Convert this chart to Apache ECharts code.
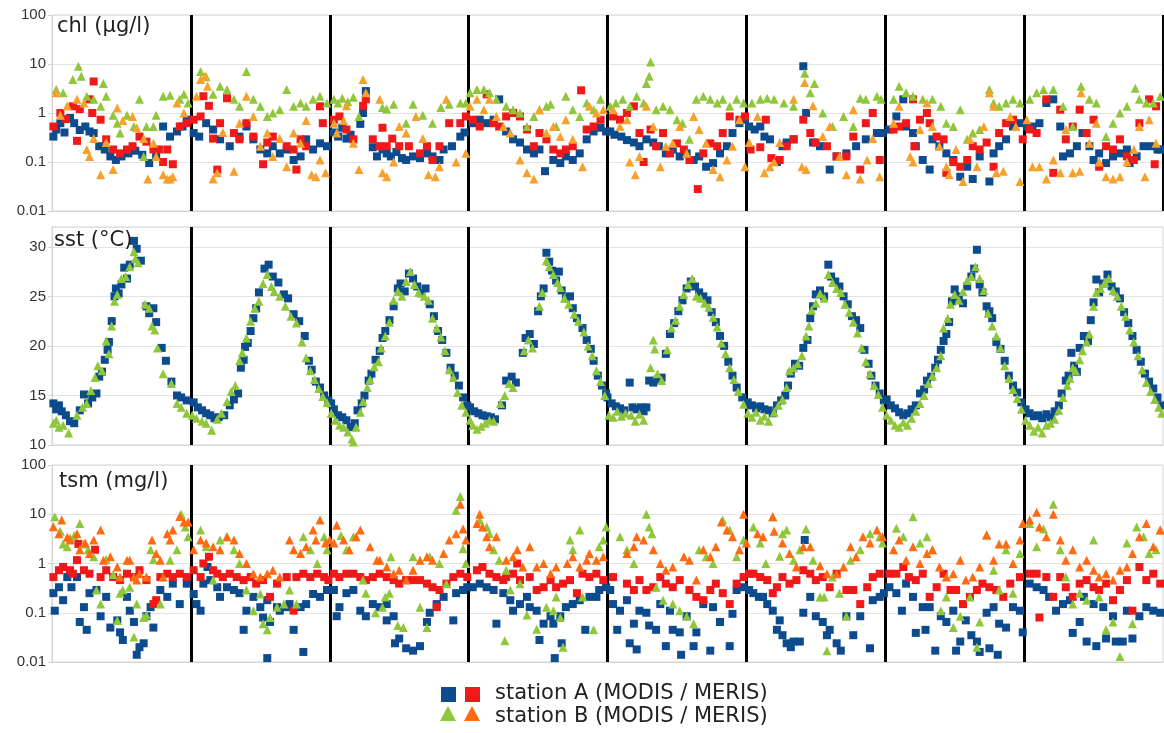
<!DOCTYPE html>
<html lang="en">
<head>
    <meta charset="UTF-8">
    <title>chl / sst / tsm</title>
    <script src="https://cdn.jsdelivr.net/npm/echarts@6/dist/echarts.min.js"></script>
</head>
<body style="margin:0;background:#fff;">
<div id="main" style="width: 1164px;height:733px;"></div>
<script>
    // time axis: years since start of record (8 years)
    const yearTicks = [0, 1, 2, 3, 4, 5, 6, 7, 8];
    const logTicks = ['100', '10', '1', '0.1', '0.01'];
    const sstTicks = [10, 15, 20, 25, 30];

    // ---- chl (ug/l) ----
    const chlAmodis = [
        [0.01,0.33],[0.03,0.46],[0.06,0.62],[0.09,0.4],[0.13,0.79],[0.16,0.62],[0.2,0.45],[0.24,0.53],[0.27,0.42],[0.3,0.39],[0.34,0.21],[0.38,0.18],[0.42,0.13],[0.46,0.11],[0.5,0.13],[0.55,0.15],[0.6,0.17],[0.65,0.14],[0.7,0.095],[0.75,0.14],[0.8,0.53],[0.85,0.33],[0.9,0.42],[0.94,0.53],[0.97,0.73],
        [1.02,0.39],[1.06,0.33],[1.11,0.62],[1.16,0.46],[1.21,0.29],[1.28,0.21],[1.35,0.33],[1.4,0.53],[1.45,0.29],[1.5,0.18],[1.55,0.15],[1.59,0.21],[1.64,0.15],[1.69,0.18],[1.74,0.11],[1.79,0.13],[1.83,0.29],[1.88,0.18],[1.93,0.24],[1.98,0.21],
        [2.03,0.4],[2.06,0.33],[2.09,0.5],[2.12,0.3],[2.15,0.36],[2.22,0.6],[2.24,1.0],[2.26,2.8],[2.31,0.2],[2.34,0.13],[2.38,0.18],[2.41,0.15],[2.44,0.13],[2.48,0.16],[2.52,0.12],[2.55,0.11],[2.6,0.13],[2.65,0.12],[2.7,0.15],[2.74,0.13],[2.79,0.11],[2.82,0.18],[2.88,0.21],[2.94,0.33],[2.97,0.4],
        [3.03,0.62],[3.08,0.73],[3.13,0.62],[3.18,0.73],[3.22,1.9],[3.27,0.42],[3.32,0.29],[3.37,0.25],[3.42,0.18],[3.47,0.15],[3.51,0.18],[3.55,0.065],[3.61,0.11],[3.66,0.095],[3.7,0.13],[3.75,0.11],[3.8,0.15],[3.85,0.29],[3.9,0.42],[3.95,0.5],[3.99,0.42],
        [4.02,0.42],[4.05,0.36],[4.1,0.33],[4.14,0.28],[4.19,0.25],[4.23,0.21],[4.28,0.29],[4.33,0.25],[4.37,0.21],[4.42,0.15],[4.47,0.18],[4.52,0.13],[4.57,0.15],[4.62,0.11],[4.66,0.13],[4.71,0.08],[4.76,0.095],[4.81,0.15],[4.86,0.21],[4.9,0.39],[4.95,0.62],[4.99,0.73],
        [5.02,0.53],[5.06,0.46],[5.1,0.53],[5.13,0.33],[5.17,0.29],[5.22,0.1],[5.26,0.21],[5.29,0.25],[5.34,0.29],[5.41,9.0],[5.43,1.0],[5.48,0.25],[5.53,0.21],[5.6,0.07],[5.65,0.13],[5.72,0.15],[5.79,0.21],[5.86,0.29],[5.94,0.39],[5.98,0.39],
        [6.03,0.46],[6.08,0.85],[6.13,1.9],[6.15,0.53],[6.2,0.39],[6.22,0.21],[6.27,0.11],[6.32,0.07],[6.34,0.29],[6.39,0.21],[6.44,0.15],[6.49,0.11],[6.54,0.05],[6.59,0.08],[6.63,0.045],[6.68,0.13],[6.75,0.04],[6.78,0.15],[6.82,0.21],[6.87,0.29],[6.92,0.53],[6.97,0.62],
        [7.02,0.53],[7.06,0.53],[7.11,0.62],[7.16,1.6],[7.21,1.9],[7.26,0.53],[7.28,0.13],[7.33,0.15],[7.38,0.21],[7.42,0.39],[7.47,0.21],[7.5,0.11],[7.54,0.15],[7.59,0.095],[7.64,0.13],[7.69,0.15],[7.74,0.18],[7.76,0.095],[7.81,0.13],[7.86,0.21],[7.91,0.21],[7.96,0.18],[7.98,0.18]
    ];
    const chlAmeris = [
        [0.01,0.53],[0.06,1.0],[0.1,0.75],[0.15,1.37],[0.18,0.27],[0.2,1.2],[0.27,1.9],[0.3,4.4],[0.29,1.0],[0.35,0.73],[0.39,0.29],[0.44,0.18],[0.49,0.15],[0.54,0.18],[0.58,0.21],[0.63,0.33],[0.68,0.26],[0.73,0.18],[0.77,0.18],[0.8,0.1],[0.83,0.18],[0.87,0.09],[0.92,0.53],[0.97,0.62],
        [1.02,0.73],[1.07,0.85],[1.09,2.2],[1.13,1.4],[1.16,0.3],[1.19,0.07],[1.21,0.62],[1.26,2.0],[1.31,0.39],[1.35,0.29],[1.4,0.62],[1.45,0.33],[1.52,0.09],[1.55,0.25],[1.59,0.33],[1.69,0.21],[1.74,0.18],[1.76,0.07],[1.79,0.29],[1.83,0.21],[1.93,1.37],[1.95,0.62],
        [2.03,0.73],[2.07,0.85],[2.12,0.46],[2.17,0.29],[2.24,1.4],[2.26,1.9],[2.31,0.29],[2.36,0.21],[2.38,0.5],[2.41,0.21],[2.45,0.3],[2.5,0.21],[2.57,0.21],[2.65,0.15],[2.7,0.21],[2.74,0.11],[2.79,0.21],[2.86,0.62],[2.94,0.62],[2.98,0.85],
        [3.03,0.73],[3.08,0.53],[3.13,2.4],[3.18,0.62],[3.22,0.53],[3.27,0.85],[3.32,1.0],[3.37,0.85],[3.42,0.46],[3.47,0.21],[3.51,0.39],[3.56,0.29],[3.61,0.18],[3.66,0.15],[3.7,0.18],[3.75,0.21],[3.81,2.9],[3.85,0.46],[3.9,0.53],[3.95,0.73],
        [4.04,0.85],[4.09,0.73],[4.14,1.0],[4.19,1.37],[4.23,0.39],[4.26,0.1],[4.31,0.46],[4.35,0.21],[4.4,0.39],[4.45,0.15],[4.5,0.24],[4.55,0.18],[4.59,0.11],[4.65,0.028],[4.69,0.15],[4.74,0.24],[4.79,0.21],[4.83,0.39],[4.88,0.85],[4.95,0.73],[4.99,0.85],
        [5.03,0.18],[5.1,0.2],[5.14,0.73],[5.18,0.12],[5.24,0.11],[5.29,0.21],[5.34,0.29],[5.41,0.73],[5.46,0.39],[5.5,0.25],[5.58,0.21],[5.65,0.13],[5.72,0.13],[5.77,0.33],[5.82,0.07],[5.86,0.62],[5.91,1.0],[5.96,0.11],
        [6.06,0.46],[6.1,0.53],[6.15,0.62],[6.2,1.9],[6.21,0.21],[6.25,0.73],[6.3,1.0],[6.32,0.62],[6.37,0.33],[6.42,0.29],[6.44,0.06],[6.49,0.1],[6.54,0.08],[6.59,0.11],[6.63,0.21],[6.68,0.18],[6.73,0.25],[6.78,0.08],[6.82,0.39],[6.87,0.62],[6.92,0.73],[6.99,0.29],
        [7.04,0.46],[7.09,0.39],[7.16,1.9],[7.21,0.06],[7.26,1.17],[7.3,0.29],[7.35,0.53],[7.4,1.17],[7.45,0.39],[7.5,0.73],[7.54,0.08],[7.59,0.21],[7.64,0.18],[7.69,0.29],[7.74,0.13],[7.79,0.11],[7.83,0.62],[7.9,1.9],[7.94,0.09],[7.95,1.37]
    ];
    const chlBmodis = [
        [0.03,3.0],[0.08,2.6],[0.15,4.8],[0.19,9.0],[0.21,5.6],[0.25,2.2],[0.3,1.9],[0.35,1.37],[0.37,4.0],[0.39,2.2],[0.44,0.9],[0.47,0.62],[0.49,0.39],[0.54,0.9],[0.59,0.53],[0.63,1.9],[0.66,0.13],[0.68,0.53],[0.73,0.53],[0.75,0.9],[0.8,2.2],[0.85,2.3],[0.92,1.9],[0.95,2.4],[0.98,1.6],
        [1.07,7.0],[1.11,5.5],[1.16,2.4],[1.21,3.5],[1.26,3.0],[1.31,1.9],[1.35,1.37],[1.4,7.0],[1.45,1.9],[1.5,1.37],[1.55,0.85],[1.59,1.0],[1.64,1.17],[1.69,3.0],[1.74,1.37],[1.79,1.6],[1.83,1.37],[1.88,1.9],[1.93,2.2],[1.98,1.6],
        [2.03,1.9],[2.06,1.6],[2.09,2.0],[2.13,1.7],[2.17,2.1],[2.21,0.85],[2.38,1.3],[2.41,1.2],[2.46,1.5],[2.55,0.62],[2.6,1.5],[2.67,0.9],[2.74,0.62],[2.8,1.3],[2.86,1.5],[2.94,1.6],[2.98,1.6],
        [3.01,2.6],[3.06,3.0],[3.11,3.0],[3.15,2.6],[3.2,1.9],[3.27,1.37],[3.32,1.17],[3.37,1.0],[3.42,0.53],[3.47,0.85],[3.51,1.17],[3.56,1.37],[3.59,1.5],[3.63,0.53],[3.7,2.2],[3.75,1.17],[3.8,0.85],[3.85,1.6],[3.9,1.17],[3.95,1.9],
        [4.02,1.37],[4.06,1.6],[4.11,1.9],[4.16,1.37],[4.21,2.2],[4.26,1.6],[4.28,4.0],[4.3,5.6],[4.31,11.0],[4.35,1.17],[4.4,1.37],[4.45,1.17],[4.5,0.73],[4.54,0.62],[4.59,0.29],[4.64,1.9],[4.69,2.2],[4.74,1.9],[4.79,1.6],[4.83,1.9],[4.88,1.37],[4.93,1.9],[4.98,1.6],
        [5.04,1.6],[5.1,1.9],[5.15,2.0],[5.2,1.9],[5.27,1.6],[5.34,1.37],[5.42,6.5],[5.46,2.6],[5.49,4.0],[5.55,1.0],[5.62,0.53],[5.7,0.85],[5.77,0.53],[5.82,2.0],[5.86,1.9],[5.94,2.2],[5.97,1.9],
        [6.06,1.9],[6.1,3.5],[6.15,2.6],[6.2,2.2],[6.27,1.9],[6.34,1.9],[6.4,1.37],[6.44,0.62],[6.49,0.53],[6.54,1.17],[6.59,0.29],[6.63,0.39],[6.68,0.46],[6.75,3.0],[6.78,1.6],[6.82,1.37],[6.87,1.6],[6.92,1.9],[6.97,1.6],
        [7.04,1.9],[7.09,2.6],[7.14,3.0],[7.21,3.0],[7.28,1.37],[7.35,0.53],[7.41,3.5],[7.47,1.9],[7.52,1.6],[7.59,0.33],[7.64,0.62],[7.69,1.0],[7.74,1.37],[7.8,3.2],[7.83,1.9],[7.88,1.6],[7.93,1.6],[7.98,2.2]
    ];
    const chlBmeris = [
        [0.03,2.6],[0.06,0.9],[0.11,1.4],[0.18,1.9],[0.23,1.6],[0.25,0.18],[0.27,0.13],[0.3,0.3],[0.35,0.055],[0.39,0.25],[0.44,0.07],[0.47,1.26],[0.51,0.7],[0.58,0.85],[0.61,0.5],[0.66,0.3],[0.69,0.045],[0.73,0.24],[0.75,0.13],[0.8,0.055],[0.83,0.045],[0.85,0.045],[0.87,0.05],[0.9,1.6],[0.95,1.0],
        [1.04,2.2],[1.07,4.8],[1.1,5.6],[1.12,3.5],[1.16,0.045],[1.19,0.06],[1.23,0.4],[1.31,0.065],[1.35,0.62],[1.4,2.2],[1.45,0.85],[1.5,0.21],[1.55,0.39],[1.59,0.13],[1.64,0.3],[1.69,0.08],[1.74,0.39],[1.79,0.24],[1.83,0.7],[1.87,0.055],[1.9,0.05],[1.93,0.11],[1.97,0.06],
        [2.03,0.62],[2.05,0.39],[2.1,0.7],[2.12,1.4],[2.17,0.24],[2.21,0.07],[2.24,4.8],[2.26,2.6],[2.36,1.9],[2.38,0.06],[2.41,0.05],[2.46,0.1],[2.5,0.53],[2.55,0.39],[2.62,0.85],[2.67,0.3],[2.71,0.055],[2.76,0.05],[2.79,0.08],[2.84,1.9],[2.91,0.1],[2.98,0.15],
        [3.01,1.37],[3.06,1.9],[3.11,1.17],[3.15,1.9],[3.2,0.85],[3.25,0.53],[3.3,0.39],[3.37,0.11],[3.42,0.06],[3.47,0.045],[3.51,1.17],[3.56,0.39],[3.61,0.53],[3.66,0.33],[3.7,0.73],[3.75,0.29],[3.82,0.08],[3.87,1.37],[3.92,1.0],[3.97,1.17],
        [4.04,1.17],[4.09,0.53],[4.14,0.73],[4.16,0.1],[4.2,0.055],[4.23,0.13],[4.28,1.37],[4.33,0.53],[4.38,0.08],[4.42,0.21],[4.47,0.24],[4.52,0.53],[4.57,0.15],[4.62,0.85],[4.66,0.46],[4.71,0.24],[4.76,0.07],[4.81,0.05],[4.86,0.11],[4.9,0.21],[4.95,0.73],[4.99,0.08],
        [5.02,0.25],[5.08,0.85],[5.13,0.06],[5.17,0.08],[5.2,0.1],[5.24,0.25],[5.34,1.9],[5.4,0.08],[5.42,4.2],[5.43,0.07],[5.48,1.4],[5.55,0.33],[5.6,0.53],[5.67,0.13],[5.72,0.055],[5.77,1.17],[5.82,0.045],[5.87,0.11],[5.91,0.3],[5.96,0.05],
        [6.06,0.62],[6.1,1.37],[6.18,0.13],[6.2,0.1],[6.25,0.46],[6.3,1.6],[6.34,0.53],[6.39,0.21],[6.44,0.08],[6.46,0.055],[6.51,0.18],[6.56,0.04],[6.61,0.29],[6.66,0.08],[6.71,0.53],[6.75,2.6],[6.78,1.37],[6.8,0.06],[6.85,0.065],[6.9,0.85],[6.94,0.53],[6.97,0.04],
        [7.02,0.73],[7.06,0.08],[7.11,0.08],[7.16,0.045],[7.21,0.11],[7.26,0.06],[7.3,0.46],[7.35,0.06],[7.4,0.065],[7.41,2.6],[7.47,0.24],[7.52,0.62],[7.54,0.1],[7.59,0.05],[7.64,0.045],[7.69,0.05],[7.74,0.1],[7.79,0.18],[7.83,0.53],[7.87,0.05],[7.9,0.73],[7.95,0.24]
    ];

    // ---- sst (degC) ----
    const sstAmodis = [
        [0.01,14.2],[0.03,13.6],[0.05,14.0],[0.07,13.4],[0.1,13.0],[0.13,12.4],[0.16,12.2],[0.2,13.5],[0.23,15.1],[0.26,14.2],[0.29,14.8],[0.32,15.2],[0.34,16.9],[0.36,17.4],[0.38,18.6],[0.4,19.6],[0.41,20.4],[0.43,22.5],[0.45,25.0],[0.46,25.8],[0.48,25.3],[0.5,26.2],[0.52,27.9],[0.54,26.8],[0.56,28.2],[0.59,30.6],[0.61,29.8],[0.64,28.6],[0.68,24.0],[0.7,23.3],[0.73,23.8],[0.75,22.4],[0.79,19.8],[0.82,18.5],[0.86,16.4],[0.9,15.0],[0.93,14.8],[0.97,14.5],
        [1.02,14.3],[1.05,13.8],[1.08,13.5],[1.11,13.2],[1.14,13.0],[1.17,12.7],[1.2,12.8],[1.24,13.0],[1.28,14.0],[1.31,14.6],[1.34,15.2],[1.36,17.8],[1.38,18.6],[1.39,19.9],[1.41,20.3],[1.43,21.5],[1.45,22.8],[1.47,23.8],[1.49,25.4],[1.53,27.8],[1.56,28.2],[1.59,27.0],[1.63,26.4],[1.67,25.2],[1.7,24.8],[1.74,23.2],[1.78,22.5],[1.82,21.0],[1.85,18.5],[1.87,17.6],[1.9,16.4],[1.93,15.8],[1.96,15.0],[1.99,14.5],
        [2.01,14.2],[2.03,13.6],[2.06,13.0],[2.09,12.8],[2.12,12.5],[2.15,11.8],[2.18,12.2],[2.2,13.5],[2.23,14.2],[2.25,15.0],[2.28,16.5],[2.3,17.2],[2.33,18.6],[2.36,19.5],[2.38,20.8],[2.4,21.5],[2.43,22.6],[2.46,24.0],[2.49,25.8],[2.51,26.3],[2.54,25.5],[2.57,27.3],[2.6,26.8],[2.63,26.0],[2.66,25.3],[2.69,25.8],[2.72,24.2],[2.75,23.0],[2.78,21.5],[2.81,20.6],[2.84,19.3],[2.87,17.8],[2.9,17.0],[2.93,16.0],[2.96,14.8],[2.99,14.0],
        [3.01,13.8],[3.04,13.4],[3.07,13.2],[3.1,13.0],[3.13,12.9],[3.16,12.8],[3.19,12.6],[3.24,14.0],[3.27,16.5],[3.31,16.9],[3.34,16.3],[3.39,19.3],[3.41,20.8],[3.44,21.2],[3.47,20.2],[3.5,23.5],[3.52,25.0],[3.54,25.8],[3.56,29.4],[3.58,28.5],[3.6,27.6],[3.63,26.6],[3.65,27.5],[3.67,25.6],[3.7,24.8],[3.73,25.0],[3.75,23.8],[3.78,22.8],[3.82,21.8],[3.85,20.6],[3.88,19.7],[3.9,18.5],[3.93,17.0],[3.96,16.0],[3.99,15.2],
        [4.0,14.8],[4.03,14.2],[4.06,13.9],[4.09,13.7],[4.12,13.5],[4.16,16.3],[4.18,13.8],[4.21,13.6],[4.24,13.8],[4.26,13.4],[4.28,13.8],[4.3,16.5],[4.33,16.3],[4.36,16.6],[4.39,16.8],[4.42,19.2],[4.45,21.2],[4.48,22.3],[4.51,23.5],[4.54,24.6],[4.57,25.8],[4.6,26.5],[4.63,26.0],[4.66,25.4],[4.69,25.0],[4.72,24.6],[4.75,23.4],[4.78,22.4],[4.81,21.0],[4.84,20.0],[4.87,18.4],[4.9,17.0],[4.93,15.8],[4.97,14.8],
        [5.01,14.3],[5.04,14.0],[5.07,13.7],[5.1,13.9],[5.13,13.6],[5.16,13.5],[5.19,13.2],[5.22,14.0],[5.25,14.5],[5.28,15.0],[5.3,16.0],[5.32,17.2],[5.35,18.2],[5.38,18.0],[5.41,19.8],[5.44,20.6],[5.46,22.8],[5.48,24.0],[5.5,25.2],[5.53,25.6],[5.56,25.0],[5.59,28.2],[5.61,27.0],[5.64,26.5],[5.67,26.0],[5.7,25.0],[5.73,24.2],[5.76,23.0],[5.79,22.6],[5.82,21.8],[5.85,19.6],[5.88,18.2],[5.9,17.0],[5.93,16.0],[5.96,15.2],[5.99,14.5],
        [6.01,14.6],[6.04,14.0],[6.07,13.7],[6.1,13.3],[6.13,13.0],[6.16,13.2],[6.19,13.6],[6.22,14.0],[6.25,15.2],[6.28,15.6],[6.3,16.5],[6.33,16.9],[6.36,17.8],[6.38,18.6],[6.4,19.6],[6.42,20.5],[6.44,21.2],[6.46,22.4],[6.48,24.5],[6.5,25.7],[6.53,25.0],[6.56,24.3],[6.59,26.0],[6.62,27.0],[6.64,27.8],[6.66,29.7],[6.68,26.2],[6.7,25.4],[6.73,24.0],[6.75,23.5],[6.77,22.8],[6.8,20.4],[6.83,19.7],[6.86,18.5],[6.89,17.0],[6.92,16.0],[6.95,15.3],[6.98,14.3],
        [7.01,13.6],[7.04,13.2],[7.07,12.9],[7.1,13.0],[7.13,12.7],[7.16,13.1],[7.19,12.8],[7.22,13.4],[7.25,14.0],[7.27,15.2],[7.3,16.5],[7.32,17.0],[7.34,19.3],[7.36,18.0],[7.38,17.4],[7.4,19.8],[7.43,21.0],[7.46,20.5],[7.48,22.6],[7.5,24.4],[7.52,26.7],[7.54,25.4],[7.57,26.3],[7.6,27.2],[7.63,26.0],[7.66,25.5],[7.69,24.8],[7.72,23.4],[7.75,22.3],[7.78,21.0],[7.81,19.6],[7.84,18.4],[7.87,17.2],[7.9,16.4],[7.93,15.7],[7.96,14.8],[7.99,14.0]
    ];
    const sstBmodis = [
        [0.01,12.2],[0.03,12.5],[0.05,11.8],[0.08,12.0],[0.12,11.2],[0.18,13.0],[0.22,13.8],[0.25,14.2],[0.28,15.5],[0.31,16.8],[0.33,18.0],[0.36,17.5],[0.39,20.5],[0.41,19.2],[0.43,22.0],[0.45,24.5],[0.47,25.2],[0.5,26.8],[0.53,27.0],[0.56,28.0],[0.59,29.5],[0.6,28.8],[0.62,28.4],[0.67,24.2],[0.7,23.8],[0.72,22.0],[0.74,21.6],[0.76,19.8],[0.8,17.2],[0.86,16.2],[0.9,14.2],[0.93,13.8],[0.97,13.2],
        [1.01,13.0],[1.04,12.7],[1.08,12.4],[1.11,12.2],[1.15,11.5],[1.19,12.6],[1.22,13.2],[1.26,14.4],[1.29,15.4],[1.32,16.0],[1.35,18.5],[1.37,19.3],[1.4,20.8],[1.43,22.5],[1.46,23.8],[1.49,24.5],[1.52,26.3],[1.55,27.2],[1.58,26.0],[1.6,25.5],[1.64,25.0],[1.68,24.0],[1.72,23.0],[1.76,22.3],[1.8,20.4],[1.83,18.8],[1.86,17.5],[1.89,16.6],[1.92,15.7],[1.95,14.9],[1.98,14.3],
        [2.01,13.2],[2.04,12.5],[2.07,12.0],[2.1,11.8],[2.13,11.3],[2.16,10.6],[2.17,10.3],[2.19,11.8],[2.22,13.3],[2.24,14.4],[2.27,15.8],[2.29,16.6],[2.32,17.9],[2.35,18.4],[2.37,19.8],[2.4,21.0],[2.43,22.4],[2.46,24.6],[2.49,25.5],[2.52,25.0],[2.55,26.5],[2.58,27.5],[2.61,26.2],[2.64,25.4],[2.68,25.0],[2.71,24.6],[2.74,22.8],[2.77,21.8],[2.8,20.9],[2.83,19.5],[2.86,17.6],[2.89,16.8],[2.92,15.3],[2.95,14.0],[2.98,13.3],
        [3.01,12.5],[3.03,12.0],[3.06,11.6],[3.09,11.9],[3.12,12.2],[3.15,12.5],[3.18,12.4],[3.23,14.2],[3.26,15.0],[3.29,16.2],[3.32,15.8],[3.4,19.5],[3.43,20.6],[3.46,19.8],[3.51,24.0],[3.53,25.4],[3.56,28.6],[3.58,28.0],[3.61,27.2],[3.64,26.4],[3.66,25.9],[3.69,24.8],[3.72,24.2],[3.76,23.2],[3.79,22.5],[3.83,21.4],[3.86,20.0],[3.89,19.0],[3.92,17.5],[3.95,16.4],[3.98,15.0],
        [4.01,13.0],[4.04,12.8],[4.07,13.4],[4.1,12.9],[4.13,13.2],[4.17,13.0],[4.2,12.4],[4.23,13.1],[4.26,12.5],[4.31,17.8],[4.33,20.6],[4.34,19.7],[4.36,17.2],[4.39,16.5],[4.43,19.6],[4.46,21.8],[4.49,22.6],[4.52,24.0],[4.55,25.2],[4.58,26.2],[4.61,26.8],[4.64,25.0],[4.67,24.8],[4.7,24.3],[4.73,23.9],[4.76,22.9],[4.79,21.9],[4.82,20.3],[4.85,19.2],[4.88,17.8],[4.91,16.6],[4.94,15.4],[4.98,14.1],
        [5.01,13.2],[5.04,12.8],[5.07,13.3],[5.1,12.5],[5.13,12.9],[5.16,12.4],[5.2,13.3],[5.23,14.0],[5.26,14.6],[5.29,15.8],[5.31,17.5],[5.34,17.8],[5.37,18.2],[5.4,19.0],[5.43,21.0],[5.45,22.0],[5.47,23.6],[5.5,24.3],[5.53,25.3],[5.56,24.8],[5.59,27.2],[5.62,26.4],[5.65,25.8],[5.68,25.4],[5.71,24.2],[5.74,23.4],[5.77,22.4],[5.8,21.3],[5.83,19.8],[5.86,18.4],[5.89,17.2],[5.92,16.0],[5.95,15.1],[5.98,13.8],
        [6.01,13.0],[6.04,12.5],[6.07,12.0],[6.1,11.8],[6.13,12.3],[6.16,12.0],[6.19,12.7],[6.22,13.4],[6.25,14.2],[6.28,15.0],[6.31,16.2],[6.34,17.0],[6.37,17.8],[6.4,19.0],[6.42,21.8],[6.45,22.8],[6.47,24.2],[6.5,25.2],[6.53,24.6],[6.56,25.5],[6.59,26.6],[6.62,27.0],[6.65,28.0],[6.68,26.8],[6.71,25.6],[6.74,23.3],[6.77,22.0],[6.8,21.0],[6.83,19.8],[6.86,18.0],[6.89,16.7],[6.92,15.6],[6.95,14.7],[6.98,13.6],
        [7.01,12.5],[7.04,12.0],[7.07,11.4],[7.1,11.8],[7.13,11.2],[7.16,12.0],[7.19,12.2],[7.22,12.6],[7.25,13.5],[7.28,14.8],[7.31,16.0],[7.33,16.7],[7.35,17.8],[7.37,17.5],[7.4,18.6],[7.42,19.5],[7.45,20.4],[7.47,21.2],[7.5,24.0],[7.52,25.4],[7.55,25.8],[7.58,26.4],[7.61,26.8],[7.64,25.6],[7.67,25.0],[7.7,24.0],[7.73,23.0],[7.76,21.6],[7.79,20.4],[7.82,19.0],[7.85,17.6],[7.88,16.3],[7.91,15.4],[7.94,14.6],[7.97,13.8],[7.99,13.2]
    ];

    // ---- tsm (mg/l) ----
    const tsmAmodis = [
        [0.01,0.25],[0.02,0.11],[0.05,0.33],[0.08,0.18],[0.11,0.53],[0.14,0.33],[0.18,0.53],[0.2,0.065],[0.23,0.13],[0.25,0.045],[0.27,0.25],[0.32,0.29],[0.35,0.085],[0.39,0.21],[0.42,0.05],[0.47,0.07],[0.49,0.04],[0.51,0.028],[0.54,0.21],[0.56,0.11],[0.59,0.065],[0.61,0.014],[0.63,0.02],[0.66,0.024],[0.68,0.085],[0.71,0.13],[0.73,0.05],[0.78,0.29],[0.83,0.21],[0.87,0.39],[0.92,0.15],[0.97,0.39],
        [1.02,0.24],[1.04,0.15],[1.07,0.11],[1.09,0.39],[1.12,0.85],[1.14,0.46],[1.19,0.33],[1.21,0.21],[1.26,0.33],[1.31,0.29],[1.35,0.25],[1.38,0.045],[1.4,0.11],[1.45,0.21],[1.5,0.13],[1.52,0.08],[1.55,0.18],[1.55,0.012],[1.57,0.065],[1.62,0.13],[1.64,0.11],[1.69,0.13],[1.71,0.15],[1.74,0.045],[1.79,0.13],[1.81,0.016],[1.83,0.15],[1.88,0.24],[1.93,0.21],[1.98,0.29],
        [2.03,0.29],[2.05,0.085],[2.07,0.13],[2.12,0.25],[2.17,0.29],[2.22,0.11],[2.26,0.085],[2.31,0.15],[2.36,0.13],[2.41,0.15],[2.41,0.07],[2.46,0.085],[2.47,0.024],[2.5,0.03],[2.55,0.019],[2.6,0.017],[2.65,0.021],[2.7,0.065],[2.72,0.1],[2.77,0.15],[2.82,0.21],[2.89,0.07],[2.91,0.25],[2.96,0.29],[2.99,0.33],
        [3.03,0.33],[3.08,0.39],[3.13,0.33],[3.18,0.29],[3.2,0.06],[3.25,0.25],[3.3,0.18],[3.32,0.11],[3.37,0.15],[3.42,0.21],[3.44,0.13],[3.49,0.11],[3.51,0.028],[3.54,0.06],[3.59,0.085],[3.61,0.06],[3.62,0.012],[3.66,0.085],[3.67,0.024],[3.7,0.13],[3.75,0.15],[3.8,0.18],[3.84,0.045],[3.87,0.21],[3.92,0.21],[3.94,0.29],[3.99,0.33],
        [4.02,0.29],[4.04,0.15],[4.07,0.045],[4.09,0.11],[4.14,0.18],[4.16,0.024],[4.19,0.06],[4.21,0.018],[4.23,0.11],[4.28,0.1],[4.3,0.055],[4.35,0.045],[4.38,0.15],[4.42,0.021],[4.45,0.11],[4.47,0.045],[4.52,0.04],[4.53,0.014],[4.57,0.085],[4.62,0.021],[4.64,0.04],[4.69,0.15],[4.74,0.017],[4.76,0.13],[4.81,0.065],[4.88,0.021],[4.9,0.095],[4.93,0.29],[4.98,0.33],
        [5.02,0.29],[5.05,0.25],[5.09,0.21],[5.12,0.21],[5.15,0.15],[5.19,0.11],[5.22,0.045],[5.24,0.07],[5.26,0.035],[5.29,0.024],[5.32,0.02],[5.34,0.026],[5.385,0.026],[5.41,0.1],[5.42,3.0],[5.46,0.21],[5.5,0.085],[5.55,0.065],[5.58,0.035],[5.6,0.045],[5.65,0.024],[5.68,0.017],[5.72,0.085],[5.77,0.035],[5.82,0.085],[5.89,0.019],[5.91,0.18],[5.96,0.21],[5.99,0.25],
        [6.03,0.33],[6.08,0.25],[6.12,0.11],[6.15,0.39],[6.2,0.21],[6.22,0.039],[6.27,0.13],[6.29,0.045],[6.32,0.13],[6.36,0.017],[6.4,0.085],[6.44,0.065],[6.49,0.11],[6.51,0.017],[6.54,0.026],[6.58,0.07],[6.62,0.035],[6.66,0.026],[6.68,0.016],[6.73,0.1],[6.75,0.019],[6.78,0.13],[6.81,0.014],[6.82,0.06],[6.87,0.05],[6.92,0.13],[6.97,0.11],[6.99,0.04],
        [7.04,0.39],[7.09,0.33],[7.14,0.29],[7.18,0.21],[7.23,0.11],[7.28,0.15],[7.33,0.18],[7.35,0.039],[7.4,0.065],[7.43,0.21],[7.45,0.026],[7.5,0.15],[7.52,0.021],[7.57,0.13],[7.59,0.03],[7.64,0.085],[7.66,0.026],[7.71,0.026],[7.74,0.11],[7.78,0.03],[7.83,0.085],[7.88,0.13],[7.93,0.11],[7.98,0.1]
    ];
    const tsmAmeris = [
        [0.01,0.53],[0.05,0.73],[0.08,0.85],[0.13,0.73],[0.15,0.62],[0.18,1.17],[0.19,2.5],[0.23,0.73],[0.27,0.62],[0.31,1.9],[0.35,0.53],[0.39,0.73],[0.44,0.53],[0.49,0.46],[0.54,0.62],[0.59,0.53],[0.63,0.73],[0.68,0.46],[0.73,0.15],[0.75,0.18],[0.78,0.53],[0.83,0.62],[0.87,0.53],[0.92,0.62],[0.97,0.53],
        [1.02,0.73],[1.07,0.53],[1.09,1.0],[1.13,1.37],[1.16,0.73],[1.19,0.62],[1.23,0.53],[1.28,0.62],[1.33,0.53],[1.38,0.46],[1.43,0.53],[1.47,0.39],[1.52,0.46],[1.57,0.21],[1.62,0.39],[1.69,0.53],[1.74,0.11],[1.76,0.53],[1.81,0.62],[1.86,0.53],[1.91,0.62],[1.96,0.53],[1.99,0.46],
        [2.03,0.62],[2.07,0.53],[2.12,0.62],[2.17,0.62],[2.22,0.53],[2.26,0.46],[2.31,0.53],[2.36,0.62],[2.41,0.53],[2.46,0.46],[2.5,0.39],[2.55,0.46],[2.6,0.46],[2.65,0.46],[2.7,0.39],[2.74,0.33],[2.77,0.13],[2.79,0.29],[2.84,0.39],[2.89,0.53],[2.94,0.62],[2.99,0.53],
        [3.06,0.73],[3.1,0.85],[3.15,0.62],[3.2,0.53],[3.25,0.46],[3.27,0.53],[3.32,0.62],[3.35,1.0],[3.37,0.46],[3.44,0.53],[3.49,0.29],[3.54,0.33],[3.59,0.46],[3.63,0.33],[3.68,0.39],[3.73,0.46],[3.78,0.25],[3.82,0.62],[3.87,0.53],[3.92,0.62],[3.97,0.46],
        [4.04,0.53],[4.14,0.39],[4.19,0.29],[4.23,0.46],[4.28,0.29],[4.33,0.33],[4.38,0.53],[4.42,0.39],[4.47,0.33],[4.52,0.46],[4.59,0.29],[4.64,0.21],[4.69,0.18],[4.74,0.29],[4.78,0.39],[4.83,0.25],[4.88,0.15],[4.93,0.39],[4.98,0.53],
        [5.02,0.62],[5.05,0.62],[5.1,0.53],[5.15,0.46],[5.19,0.25],[5.22,0.33],[5.26,0.53],[5.31,0.39],[5.36,0.46],[5.41,0.73],[5.46,0.62],[5.5,0.46],[5.55,0.53],[5.6,0.33],[5.65,0.62],[5.72,0.29],[5.77,0.29],[5.82,0.15],[5.87,0.33],[5.91,0.53],[5.96,0.62],
        [6.03,0.62],[6.08,0.62],[6.13,0.85],[6.17,0.53],[6.22,0.46],[6.27,0.62],[6.32,0.21],[6.37,0.33],[6.42,0.62],[6.47,0.29],[6.51,0.29],[6.56,0.15],[6.61,0.21],[6.66,0.29],[6.7,0.39],[6.75,0.33],[6.8,0.29],[6.85,0.21],[6.9,0.39],[6.97,0.53],
        [7.04,0.62],[7.09,0.62],[7.11,0.08],[7.16,0.53],[7.21,0.21],[7.26,0.53],[7.3,0.33],[7.35,0.21],[7.4,0.39],[7.45,0.46],[7.5,0.33],[7.54,0.29],[7.59,0.39],[7.64,0.18],[7.69,0.29],[7.74,0.46],[7.78,0.11],[7.83,0.85],[7.88,0.46],[7.93,0.62],[7.98,0.39]
    ];
    const tsmBmodis = [
        [0.02,8.9],[0.06,4.5],[0.08,2.5],[0.11,2.2],[0.13,3.3],[0.16,3.7],[0.2,6.5],[0.23,2.5],[0.26,1.9],[0.3,1.37],[0.32,0.29],[0.35,0.15],[0.39,1.2],[0.44,0.6],[0.47,0.07],[0.49,0.25],[0.51,0.29],[0.56,0.33],[0.59,0.032],[0.61,0.15],[0.66,0.08],[0.68,0.09],[0.71,1.9],[0.73,1.2],[0.78,0.15],[0.85,1.17],[0.9,1.9],[0.93,10.0],[0.96,5.5],[0.98,3.5],
        [1.07,4.8],[1.11,2.2],[1.16,0.46],[1.21,3.0],[1.26,3.5],[1.31,1.9],[1.35,1.0],[1.4,0.29],[1.45,0.11],[1.5,0.24],[1.52,0.06],[1.55,0.045],[1.57,0.08],[1.62,0.13],[1.67,0.15],[1.71,0.29],[1.76,0.15],[1.81,3.5],[1.86,1.9],[1.91,1.0],[1.96,3.5],[1.98,1.9],
        [2.08,3.7],[2.12,1.9],[2.17,3.5],[2.24,0.46],[2.26,0.25],[2.33,0.1],[2.38,0.13],[2.4,0.21],[2.43,0.25],[2.44,1.37],[2.49,0.055],[2.53,0.05],[2.6,1.37],[2.65,0.13],[2.7,0.05],[2.72,1.37],[2.79,1.0],[2.84,0.39],[2.91,12.0],[2.94,23.0],[2.96,2.0],[2.98,1.0],
        [3.08,7.6],[3.13,5.5],[3.15,4.0],[3.18,1.9],[3.22,1.17],[3.26,0.027],[3.27,0.73],[3.3,0.29],[3.37,0.39],[3.42,0.09],[3.49,0.046],[3.56,0.13],[3.61,0.11],[3.63,0.21],[3.66,0.08],[3.68,0.02],[3.73,3.0],[3.75,1.9],[3.8,4.8],[3.82,0.21],[3.9,0.045],[3.94,2.2],[3.97,3.0],[3.99,5.5],
        [4.09,3.5],[4.14,1.9],[4.19,1.0],[4.28,10.0],[4.3,5.5],[4.32,4.0],[4.35,0.33],[4.4,0.18],[4.47,0.15],[4.52,0.11],[4.57,0.085],[4.62,0.06],[4.66,1.9],[4.71,1.37],[4.76,1.0],[4.83,7.6],[4.88,4.8],[4.93,1.37],[4.98,3.0],
        [5.05,5.5],[5.1,2.6],[5.14,1.0],[5.19,8.9],[5.24,1.4],[5.26,4.0],[5.29,4.8],[5.34,1.17],[5.385,1.9],[5.43,5.0],[5.48,1.17],[5.53,0.21],[5.56,0.21],[5.58,0.017],[5.62,0.53],[5.67,0.25],[5.72,0.085],[5.75,1.17],[5.82,1.9],[5.89,4.0],[5.96,3.5],[5.98,2.6],
        [6.08,5.2],[6.13,3.5],[6.2,8.9],[6.25,2.6],[6.3,3.5],[6.34,1.9],[6.4,0.11],[6.44,0.21],[6.49,0.05],[6.54,0.085],[6.61,0.21],[6.66,0.02],[6.68,0.065],[6.73,3.8],[6.78,0.73],[6.82,0.29],[6.87,1.9],[6.92,0.25],[6.97,1.6],
        [7.04,6.5],[7.09,2.2],[7.14,5.0],[7.21,16.0],[7.26,1.9],[7.3,0.53],[7.35,0.15],[7.4,0.25],[7.45,0.18],[7.5,3.0],[7.54,0.21],[7.59,0.045],[7.64,0.065],[7.69,0.013],[7.74,2.6],[7.78,0.06],[7.81,5.5],[7.86,3.5],[7.9,1.6],[7.95,1.9],[7.98,4.8]
    ];
    const tsmBmeris = [
        [0.01,5.6],[0.05,4.0],[0.07,7.6],[0.11,3.4],[0.13,3.0],[0.18,4.0],[0.2,1.9],[0.24,2.6],[0.27,1.6],[0.3,3.0],[0.35,4.8],[0.37,1.17],[0.42,1.37],[0.47,0.85],[0.49,0.53],[0.54,1.17],[0.56,1.17],[0.59,0.53],[0.61,0.46],[0.63,0.62],[0.68,0.53],[0.72,3.0],[0.75,1.6],[0.78,1.17],[0.8,0.53],[0.83,4.0],[0.85,3.0],[0.87,4.8],[0.92,9.0],[0.95,7.0],[0.98,7.0],
        [1.02,1.9],[1.07,3.0],[1.11,2.6],[1.16,2.2],[1.21,1.9],[1.26,3.5],[1.31,3.0],[1.35,1.6],[1.4,1.0],[1.45,0.62],[1.5,0.53],[1.55,0.62],[1.59,0.73],[1.64,0.53],[1.71,3.0],[1.74,1.9],[1.79,1.6],[1.83,2.2],[1.88,4.8],[1.9,3.0],[1.93,7.6],[1.97,2.6],[2.0,3.0],
        [2.03,2.6],[2.05,6.0],[2.1,3.0],[2.14,1.9],[2.19,3.5],[2.22,4.8],[2.29,2.2],[2.34,1.17],[2.36,1.17],[2.41,0.85],[2.46,0.62],[2.5,0.73],[2.55,0.46],[2.6,0.73],[2.65,1.17],[2.7,1.37],[2.74,1.17],[2.82,1.6],[2.86,3.0],[2.91,4.0],[2.94,16.0],[2.96,5.0],[2.98,3.0],
        [3.06,6.5],[3.08,10.0],[3.1,5.5],[3.13,3.5],[3.15,2.2],[3.2,3.5],[3.27,1.17],[3.32,1.37],[3.35,1.9],[3.39,0.85],[3.44,2.2],[3.49,0.85],[3.54,1.0],[3.59,0.62],[3.63,0.85],[3.71,1.0],[3.75,1.37],[3.8,0.85],[3.85,1.17],[3.87,1.6],[3.92,1.17],[3.97,1.37],
        [4.14,1.6],[4.19,2.2],[4.21,3.5],[4.26,3.0],[4.33,1.9],[4.38,1.0],[4.42,0.73],[4.47,0.85],[4.55,1.37],[4.59,1.17],[4.64,0.46],[4.69,1.9],[4.74,1.37],[4.78,2.2],[4.82,7.0],[4.86,4.8],[4.9,3.5],[4.95,1.9],[4.98,10.0],[5.0,2.6],
        [5.08,4.0],[5.12,3.5],[5.19,8.9],[5.2,4.5],[5.26,2.6],[5.31,1.6],[5.36,0.85],[5.41,2.2],[5.46,2.2],[5.53,0.9],[5.58,0.62],[5.65,0.62],[5.7,0.85],[5.75,2.2],[5.79,1.37],[5.84,3.5],[5.89,2.6],[5.94,4.8],[5.98,3.5],
        [6.06,1.9],[6.1,3.0],[6.15,1.17],[6.2,2.2],[6.25,1.0],[6.3,1.6],[6.34,1.9],[6.39,0.85],[6.44,0.53],[6.49,0.62],[6.54,1.17],[6.58,0.46],[6.63,0.53],[6.68,0.85],[6.73,3.8],[6.78,1.17],[6.82,2.5],[6.87,2.5],[6.92,1.0],[6.97,3.0],[6.99,6.5],
        [7.04,7.6],[7.09,11.0],[7.11,5.5],[7.16,3.5],[7.21,10.0],[7.26,3.0],[7.3,1.17],[7.35,1.9],[7.4,0.85],[7.45,1.17],[7.5,0.73],[7.54,0.53],[7.59,0.62],[7.64,0.46],[7.69,0.73],[7.74,0.85],[7.78,1.6],[7.83,3.5],[7.88,6.5],[7.93,2.2],[7.98,4.8]
    ];

    const BLUE = '#0c4b8e';
    const RED = '#f01818';
    const GREEN = '#8fc73a';
    const ORANGE_CHL = '#f7a02c';
    const ORANGE = '#ff6a12';

    let myChart = echarts.init(document.getElementById('main'), null, {renderer: 'canvas'});

    const tickFont = {fontFamily: 'Liberation Sans', fontSize: 15, color: '#333'};
    const gridLine = {lineStyle: {color: '#e3e3e3', width: 1}};
    const titleFont = {fontFamily: 'DejaVu Sans', fontSize: 21, fontWeight: 'normal', color: '#222'};

    function xAx(gridIndex, showMax) {
        return {
            type: 'value', gridIndex: gridIndex, min: yearTicks[0], max: yearTicks[yearTicks.length - 1], interval: 1,
            axisLabel: {show: false}, axisTick: {show: false},
            axisLine: {show: true, lineStyle: {color: '#d4d4d4'}},
            splitLine: {show: true, showMinLine: false, showMaxLine: showMax, lineStyle: {color: '#000', width: 3}}
        };
    }
    function logAx(gridIndex) {
        return {
            type: 'log', logBase: 10, gridIndex: gridIndex,
            min: +logTicks[logTicks.length - 1], max: +logTicks[0],
            axisLine: {show: true, lineStyle: {color: '#d4d4d4'}},
            axisTick: {show: true, length: 4, lineStyle: {color: '#d4d4d4'}},
            axisLabel: Object.assign({margin: 6, formatter: v => String(+(+v).toPrecision(2))}, tickFont),
            splitLine: gridLine
        };
    }
    function scatter(data, xi, symbol, color, size) {
        return {
            type: 'scatter', xAxisIndex: xi, yAxisIndex: xi, data: data,
            symbol: symbol, symbolSize: size, itemStyle: {color: color, opacity: 1},
            silent: true, animation: false
        };
    }

    let option = {
        animation: false,
        backgroundColor: '#fff',
        grid: [
            {left: 52, right: 1, top: 15, height: 196, show: true, borderColor: '#d4d4d4', borderWidth: 1},
            {left: 52, right: 1, top: 227, height: 218, show: true, borderColor: '#d4d4d4', borderWidth: 1},
            {left: 52, right: 1, top: 465, height: 197, show: true, borderColor: '#d4d4d4', borderWidth: 1}
        ],
        xAxis: [xAx(0, true), xAx(1, false), xAx(2, false)],
        yAxis: [
            logAx(0),
            {
                type: 'value', gridIndex: 1, min: sstTicks[0], max: 32, interval: 5,
                axisLine: {show: true, lineStyle: {color: '#d4d4d4'}},
                axisTick: {show: true, length: 4, lineStyle: {color: '#d4d4d4'}},
                axisLabel: Object.assign({margin: 6, showMaxLabel: false}, tickFont),
                splitLine: gridLine
            },
            logAx(2)
        ],
        title: [
            {text: 'chl (µg/l)', left: 57, top: 16, padding: 0, textStyle: titleFont},
            {text: 'sst (°C)', left: 54, top: 230, padding: 0, textStyle: titleFont},
            {text: 'tsm (mg/l)', left: 59, top: 471, padding: 0, textStyle: titleFont}
        ],
        graphic: [
            {type: 'rect', left: 441, top: 687, shape: {width: 15, height: 15}, style: {fill: BLUE}},
            {type: 'rect', left: 465, top: 687, shape: {width: 15, height: 15}, style: {fill: RED}},
            {type: 'text', left: 495, top: 683, style: {text: 'station A (MODIS / MERIS)', font: '21px "DejaVu Sans"', fill: '#222'}},
            {type: 'polygon', shape: {points: [[448, 706], [456, 721], [440, 721]]}, style: {fill: GREEN}},
            {type: 'polygon', shape: {points: [[472, 706], [480, 721], [464, 721]]}, style: {fill: ORANGE}},
            {type: 'text', left: 495, top: 706, style: {text: 'station B (MODIS / MERIS)', font: '21px "DejaVu Sans"', fill: '#222'}}
        ],
        series: [
            scatter(chlAmodis, 0, 'rect', BLUE, 8),
            scatter(chlAmeris, 0, 'rect', RED, 8),
            scatter(chlBmodis, 0, 'triangle', GREEN, 9),
            scatter(chlBmeris, 0, 'triangle', ORANGE_CHL, 9),
            scatter(sstAmodis, 1, 'rect', BLUE, 8),
            scatter(sstBmodis, 1, 'triangle', GREEN, 9),
            scatter(tsmAmodis, 2, 'rect', BLUE, 8),
            scatter(tsmAmeris, 2, 'rect', RED, 8),
            scatter(tsmBmodis, 2, 'triangle', GREEN, 9),
            scatter(tsmBmeris, 2, 'triangle', ORANGE, 9)
        ]
    };
    myChart.setOption(option);
</script>
</body>
</html>
